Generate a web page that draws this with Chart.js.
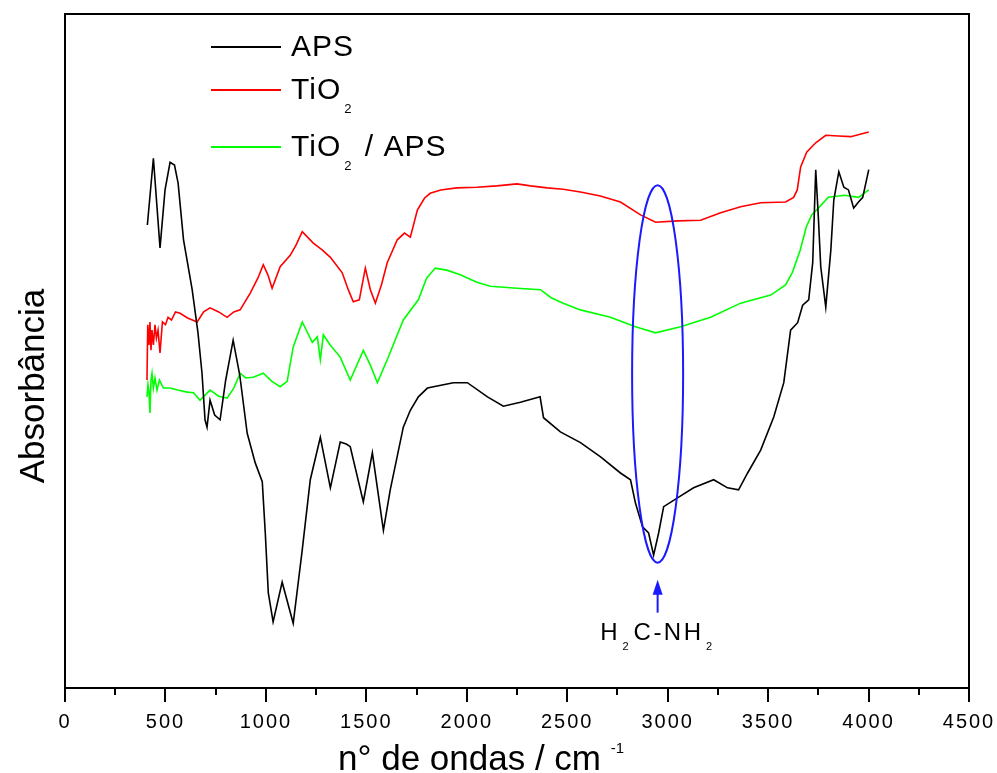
<!DOCTYPE html>
<html>
<head>
<meta charset="utf-8">
<script src="https://cdn.jsdelivr.net/npm/chart.js@4.4.1/dist/chart.umd.min.js"></script>
<style>
    html, body { margin: 0; padding: 0; background: #fff; }
    canvas { display: block; }
</style>
</head>
<body>
<canvas id="myChart" width="997" height="773"></canvas>
<script>
// FTIR spectra: wavenumber (cm-1) and absorbance (arbitrary units, 0-100)
const apsWave = [410, 440, 473, 498, 523, 545, 563, 590, 633, 662, 682, 697, 707, 722, 745, 772, 800, 837, 870, 907,
    947, 982, 997, 1012, 1036, 1081, 1136, 1181, 1221, 1271, 1321, 1370, 1400, 1420, 1485, 1530, 1585, 1619, 1684, 1719,
    1759, 1804, 1933, 2003, 2103, 2182, 2267, 2365, 2382, 2466, 2566, 2666, 2765, 2815, 2840, 2875, 2905, 2930, 2955, 2980,
    3049, 3129, 3229, 3298, 3353, 3398, 3463, 3528, 3578, 3612, 3647, 3672, 3702, 3722, 3737, 3750, 3762, 3787, 3812, 3827,
    3852, 3877, 3900, 3926, 3950, 3971, 4001];
const apsAbs = [68.7, 78.6, 65.3, 73.9, 78.0, 77.6, 74.9, 66.5, 59.1, 52.7, 46.7, 39.8, 38.7, 42.7, 40.5, 39.8, 45.7, 51.6, 46.4, 37.8,
    33.4, 30.6, 23.0, 14.1, 9.8, 15.7, 9.6, 20.5, 30.9, 37.2, 29.7, 36.5, 36.2, 35.8, 27.6, 34.9, 23.4, 29.4, 38.7, 41.2,
    43.2, 44.5, 45.3, 45.3, 43.2, 41.8, 42.4, 43.2, 40.1, 38.0, 36.4, 34.3, 31.9, 30.9, 27.4, 23.9, 23.0, 19.7, 23.0, 26.9,
    28.2, 29.7, 30.9, 29.7, 29.4, 31.9, 35.3, 40.2, 45.3, 53.1, 54.2, 56.8, 57.6, 63.1, 76.9, 69.9, 62.5, 56.5, 64.9, 72.4,
    76.6, 74.3, 73.9, 71.2, 72.1, 72.8, 76.9];

const tio2Wave = [408, 412, 418, 423, 428, 433, 440, 448, 455, 463, 473, 485, 500, 513, 530, 550, 573, 610, 658, 690,
    722, 765, 807, 840, 872, 922, 960, 987, 1010, 1031, 1071, 1121, 1150, 1181, 1236, 1280, 1321, 1380, 1410, 1435,
    1465, 1495, 1520, 1545, 1575, 1604, 1654, 1690, 1719, 1754, 1790, 1818, 1870, 1950, 2050, 2150, 2250, 2317, 2400, 2480,
    2566, 2665, 2765, 2865, 2940, 3050, 3164, 3264, 3363, 3463, 3587, 3627, 3645, 3662, 3692, 3737, 3787, 3850, 3911, 4001];
const tio2Abs = [45.7, 53.9, 50.9, 54.3, 50.1, 53.1, 50.9, 53.9, 51.9, 53.1, 49.7, 54.3, 53.9, 55.0, 54.6, 55.8, 55.6, 54.9, 54.3, 55.8,
    56.4, 55.8, 55.0, 55.8, 56.1, 58.6, 60.8, 62.8, 61.3, 59.3, 62.5, 64.2, 65.7, 67.7, 66.0, 65.0, 63.9, 61.6, 59.1, 57.3,
    57.6, 62.3, 59.1, 57.1, 59.8, 63.1, 66.5, 67.5, 66.9, 70.9, 72.7, 73.4, 73.9, 74.2, 74.3, 74.5, 74.8, 74.5, 74.2, 74.0,
    73.6, 73.0, 72.1, 70.2, 69.1, 69.3, 69.4, 70.5, 71.4, 72.0, 72.1, 72.8, 73.9, 77.3, 79.5, 80.9, 82.0, 81.9, 81.8, 82.5];

const mixWave = [408, 413, 418, 423, 428, 433, 440, 448, 458, 470, 490, 523, 560, 608, 640, 672, 722, 765, 807, 840,
    872, 900, 937, 987, 1030, 1071, 1106, 1136, 1181, 1231, 1256, 1271, 1286, 1320, 1370, 1420, 1485, 1520, 1555, 1604,
    1684, 1759, 1800, 1843, 1900, 1968, 2050, 2118, 2250, 2367, 2420, 2480, 2566, 2715, 2840, 2940, 3064, 3214, 3363, 3513,
    3587, 3620, 3660, 3690, 3717, 3750, 3800, 3880, 3950, 4001];
const mixAbs = [43.2, 45.0, 43.9, 40.8, 45.7, 46.7, 44.5, 46.0, 44.2, 45.7, 44.5, 44.5, 44.2, 43.9, 43.8, 42.7, 44.2, 43.3, 43.0, 44.5,
    46.7, 46.0, 46.1, 46.7, 45.5, 44.7, 45.5, 50.6, 54.3, 51.3, 52.1, 48.7, 52.4, 50.9, 49.1, 45.7, 50.1, 47.9, 45.3, 48.7,
    54.6, 57.6, 60.8, 62.3, 62.0, 61.3, 60.2, 59.6, 59.3, 59.1, 57.9, 57.1, 56.1, 55.0, 53.6, 52.7, 53.6, 55.0, 57.1, 58.3,
    59.8, 61.6, 65.0, 68.4, 70.2, 71.2, 72.8, 73.1, 72.8, 73.9];

const seriesLabels = ['APS', 'TiO_{2}', 'TiO_{2} / APS'];
const seriesColors = ['#000000', '#ff0000', '#00ff00'];
const xTickValues = [0, 500, 1000, 1500, 2000, 2500, 3000, 3500, 4000, 4500];

// H2C-NH2 band marked on the APS spectrum
const bandCenter = 2950;
const bandHalfWidth = 127;
const bandMid = 46.6;
const bandHalfHeight = 28.0;
const bandLabel = 'H_{2}C-NH_{2}';

const FONT = '"Liberation Sans", Arial, sans-serif';

function toPoints(xs, ys) {
    return xs.map((x, i) => ({ x: x, y: ys[i] }));
}

// draws text with _{..} subscripts and ^{..} superscripts, returns width
function drawRich(ctx, text, x, y, size, subScale, subShift) {
    subScale = subScale || 0.43;
    subShift = subShift || 0.47;
    const parts = [];
    const re = /([_^])\{([^}]*)\}/g;
    let last = 0, m;
    while ((m = re.exec(text))) {
        if (m.index > last) parts.push([text.slice(last, m.index), '']);
        parts.push([m[2], m[1]]);
        last = re.lastIndex;
    }
    if (last < text.length) parts.push([text.slice(last), '']);
    let cx = x;
    for (const [t, k] of parts) {
        const s = k ? Math.round(size * subScale) : size;
        ctx.font = s + 'px ' + FONT;
        const dy = k === '_' ? size * subShift : (k === '^' ? -size * 0.49 : 0);
        const gap = k === '_' ? size * 0.1 : 0;
        ctx.fillText(t, cx + gap, y + dy);
        cx += ctx.measureText(t).width + gap * 2;
    }
    return cx - x;
}

const figurePlugin = {
    id: 'figure',
    beforeDraw(chart) {
        chart.ctx.letterSpacing = '2px';
    },
    afterDraw(chart) {
        const { ctx, chartArea: a, scales: { x, y } } = chart;
        ctx.save();
        ctx.letterSpacing = '0px';

        // frame
        ctx.strokeStyle = '#000';
        ctx.lineWidth = 2;
        ctx.strokeRect(a.left, a.top, a.right - a.left, a.bottom - a.top);

        // major and minor ticks on the bottom axis
        ctx.lineWidth = 2;
        xTickValues.forEach((v, i) => {
            const px = Math.round(x.getPixelForValue(v));
            ctx.beginPath();
            ctx.moveTo(px, a.bottom);
            ctx.lineTo(px, a.bottom + 14);
            ctx.stroke();
            if (i < xTickValues.length - 1) {
                const mx = Math.round(x.getPixelForValue((v + xTickValues[i + 1]) / 2));
                ctx.beginPath();
                ctx.moveTo(mx, a.bottom);
                ctx.lineTo(mx, a.bottom + 7);
                ctx.stroke();
            }
        });

        // legend
        const rowY = [47, 90, 147];
        ctx.textBaseline = 'alphabetic';
        ctx.textAlign = 'left';
        ctx.letterSpacing = '1px';
        chart.data.datasets.forEach((ds, i) => {
            ctx.strokeStyle = ds.borderColor;
            ctx.lineWidth = 2;
            ctx.beginPath();
            ctx.moveTo(211, rowY[i]);
            ctx.lineTo(281, rowY[i]);
            ctx.stroke();
            ctx.fillStyle = '#000';
            drawRich(ctx, seriesLabels[i], 291, rowY[i] + 9, 30);
        });

        // band marker: ellipse, arrow, label
        const cx = x.getPixelForValue(bandCenter);
        const cy = y.getPixelForValue(bandMid);
        const rx = x.getPixelForValue(bandCenter + bandHalfWidth) - cx;
        const ry = cy - y.getPixelForValue(bandMid + bandHalfHeight);
        ctx.strokeStyle = '#1a1aff';
        ctx.fillStyle = '#1a1aff';
        ctx.lineWidth = 2;
        ctx.beginPath();
        ctx.ellipse(cx, cy, rx, ry, 0, 0, Math.PI * 2);
        ctx.stroke();

        const tip = y.getPixelForValue(bandMid - bandHalfHeight) + 17;
        ctx.beginPath();
        ctx.moveTo(cx, tip + 12);
        ctx.lineTo(cx, tip + 33);
        ctx.stroke();
        ctx.beginPath();
        ctx.moveTo(cx, tip);
        ctx.lineTo(cx - 5, tip + 15);
        ctx.lineTo(cx + 5, tip + 15);
        ctx.closePath();
        ctx.fill();

        ctx.fillStyle = '#000';
        ctx.letterSpacing = '2.5px';
        const probe = document.createElement('canvas').getContext('2d');
        probe.letterSpacing = '2.5px';
        const w = drawRich(probe, bandLabel, 0, 0, 24, 0.46, 0.42);
        drawRich(ctx, bandLabel, cx - w / 2 + 1, tip + 60, 24, 0.46, 0.42);

        // axis titles
        ctx.letterSpacing = '0px';
        drawRich(ctx, 'n° de ondas / cm ^{-1}', 338, 770, 35);
        ctx.translate(44, 386);
        ctx.rotate(-Math.PI / 2);
        ctx.textAlign = 'center';
        ctx.font = '35px ' + FONT;
        ctx.fillText('Absorbância', 0, 0);

        ctx.restore();
    }
};

function CreateChart() {
    const ctx = document.getElementById('myChart');
    const series = [
        toPoints(apsWave, apsAbs),
        toPoints(tio2Wave, tio2Abs),
        toPoints(mixWave, mixAbs)
    ];

    new Chart(ctx, {
        type: 'line',
        data: {
            datasets: series.map((pts, i) => ({
                label: seriesLabels[i].replace(/_\{(.*?)\}/g, '$1'),
                data: pts,
                borderColor: seriesColors[i],
                borderWidth: 1.6,
                pointRadius: 0,
                tension: 0,
                fill: false
            }))
        },
        options: {
            responsive: false,
            animation: false,
            devicePixelRatio: 1,
            layout: {
                padding: { top: 14, right: 28, left: 0, bottom: 0 }
            },
            scales: {
                x: {
                    type: 'linear',
                    min: 0,
                    max: 4500,
                    afterFit: (scale) => {
                        scale.height = 85;
                        scale.paddingLeft = 0;
                        scale.paddingRight = 0;
                    },
                    grid: { display: false },
                    border: { display: false },
                    ticks: {
                        stepSize: 500,
                        autoSkip: false,
                        maxRotation: 0,
                        padding: 14,
                        color: '#000',
                        font: { family: FONT, size: 20 },
                        callback: (v) => xTickValues.includes(v) ? String(v) : ''
                    }
                },
                y: {
                    min: 0,
                    max: 100,
                    afterFit: (scale) => {
                        scale.width = 65;
                        scale.paddingTop = 0;
                        scale.paddingBottom = 0;
                    },
                    grid: { display: false },
                    border: { display: false },
                    ticks: { display: false }
                }
            },
            plugins: {
                legend: { display: false },
                tooltip: { enabled: false }
            }
        },
        plugins: [figurePlugin]
    });
}

CreateChart();
</script>
</body>
</html>
